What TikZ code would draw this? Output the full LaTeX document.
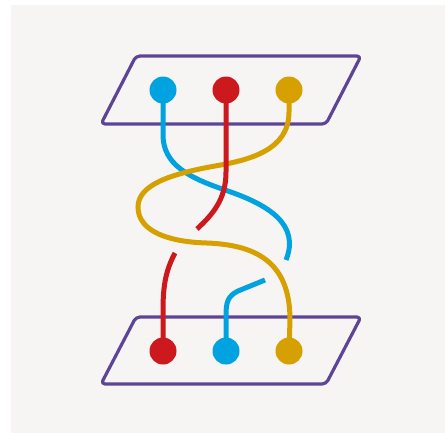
\documentclass[tikz,border=0pt]{standalone}
\usepackage{xcolor}
\usepackage{tikz}
\definecolor{paper}{HTML}{F6F5F3}
\definecolor{frame}{HTML}{5E4497}
\definecolor{sky}{HTML}{00A3E0}
\definecolor{ruby}{HTML}{CC191E}
\definecolor{amber}{HTML}{D6A000}
\pgfdeclarelayer{back}
\pgfsetlayers{back,main}

\begin{document}
\begin{tikzpicture}[x=1pt,y=-1pt,
  dot/.style={circle,inner sep=0pt,minimum size=27pt},
  plate/.style={draw=frame,line width=3.2pt,rounded corners=4pt,line join=round},
  strand/.style={line width=5pt}]
\useasboundingbox (0,0) rectangle (445,434);

  \node[dot,fill=sky]		(Bt) at (163,90)	{};
  \node[dot,fill=ruby]		(Rt) at (226,90)	{};
  \node[dot,fill=amber]		(Gt) at (289,90)	{};
  \node[dot,fill=ruby]		(Rb) at (163,351)	{};
  \node[dot,fill=sky]		(Bb) at (226,351)	{};
  \node[dot,fill=amber]		(Gb) at (289,351)	{};

\coordinate (Bx) at (286,260);
\coordinate (By) at (265,280);
\coordinate (Rx) at (197,229);
\coordinate (Ry) at (175,253);

\begin{pgfonlayer}{back}
\fill[paper] (11,5) rectangle (445,433);
\draw[plate] (136,56) -- (361,56) -- (326,124) -- (101,124) -- cycle;
\draw[plate] (136,317) -- (361,317) -- (326,384) -- (101,384) -- cycle;

  \path[strand,draw=sky]
		(Bt.center) -- (163,135) .. controls (163,165) and (190,178) .. (225,190)
		.. controls (270,205) and (300,225) .. (Bx)
		(By) -- (238,291) .. controls (228,296) and (226,302) .. (226,315) -- (Bb.center);

  \path[strand,draw=ruby]
		(Ry) .. controls (166,270) and (163,285) .. (163,310) -- (Rb.center);

  \path[strand,draw=amber]
		(Gt.center) -- (289,112) .. controls (289,150) and (250,160) .. (215,166)
		.. controls (170,174) and (138,185) .. (138,207)
		.. controls (138,232) and (170,242) .. (207,243)
		.. controls (260,245) and (290,265) .. (290,320) -- (Gb.center);

  \path[strand,draw=ruby]
		(Rt.center) -- (226,172) .. controls (226,200) and (212,215) .. (Rx);
\end{pgfonlayer}
\end{tikzpicture}
\end{document}
